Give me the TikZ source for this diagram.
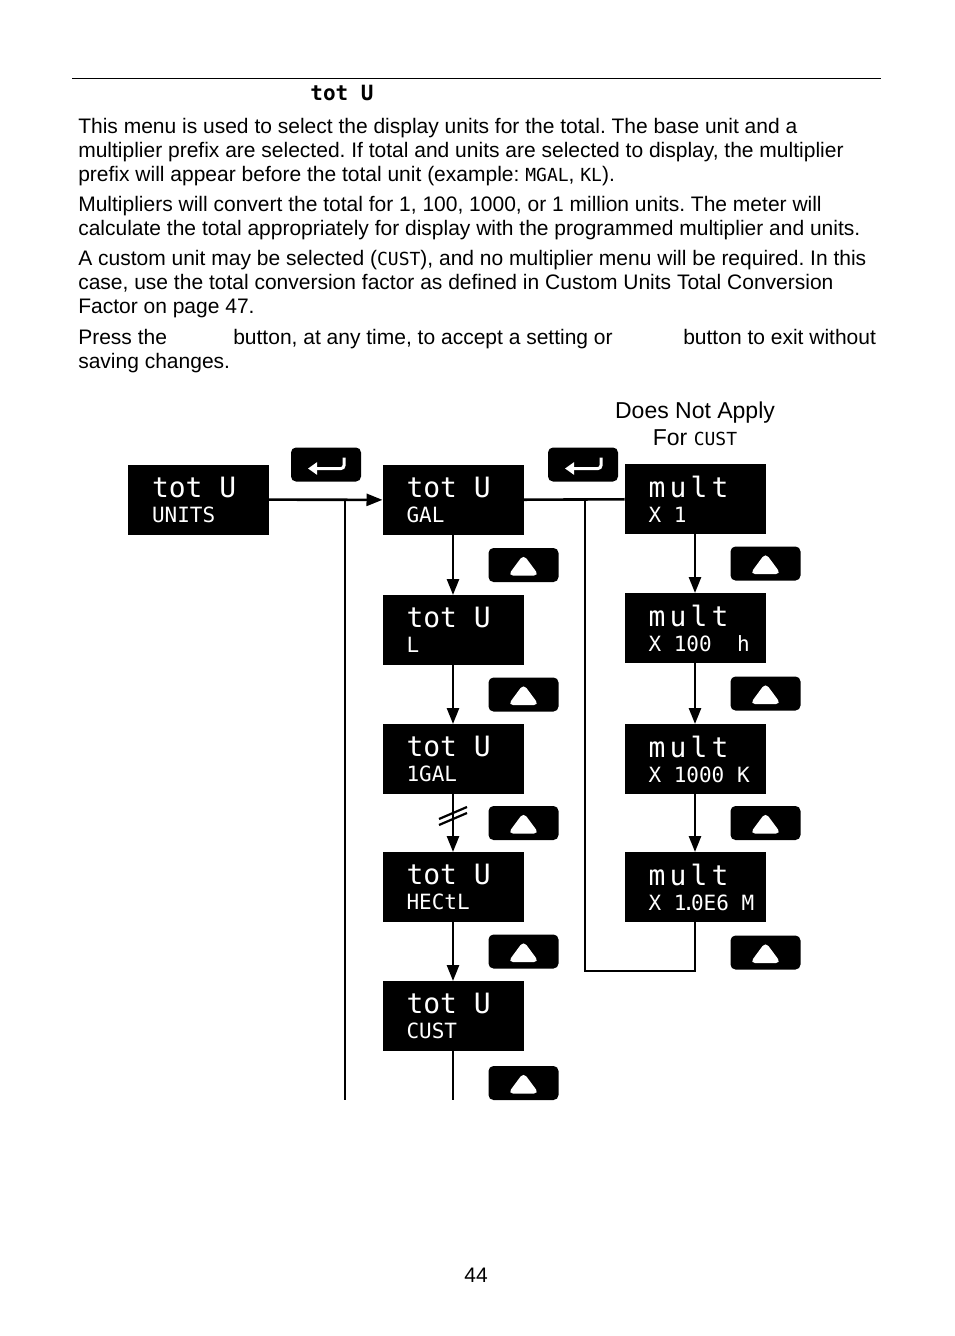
\documentclass[tikz,border=0pt]{standalone}
\usepackage{fontspec}
\setmainfont{Liberation Sans}
\newfontfamily\segfont{DejaVu Sans Mono}
\newfontfamily\segwide{DejaVu Sans Mono}[LetterSpace=15]
\usetikzlibrary{positioning,arrows.meta,calc}

\newcommand\segline[1]{\hbox{\spaceskip=0pt\xspaceskip=0pt #1}}
\newcommand\segbig[1]{\segline{\segfont\fontsize{28}{28}\selectfont #1}}
\newcommand\segmult{\segline{\segwide\fontsize{28}{28}\selectfont mult}}
\newcommand\segsmall{\segfont\fontsize{21}{25}\selectfont}
\newcommand\seginline[1]{{\segfont\fontsize{18}{18}\selectfont #1}}
\frenchspacing

\begin{document}
\begin{tikzpicture}[
  x=1pt, y=-1pt,
  >={Triangle[length=16pt,width=12pt]},
  line width=2.6pt,
  font=\fontsize{21}{24}\selectfont,
  prose/.style={
     anchor=north west,
     inner sep=0pt,
     align=left
  },
  display/.style={
     fill=black,
     text=white,
     font=\segsmall,
     minimum width=141pt,
     minimum height=70pt,
     outer sep=0pt,
     inner xsep=24pt,
     inner ysep=0pt,
     text width=93pt,
     align=left
  },
  key/.style={
     fill=black,
     rounded corners=5pt,
     minimum width=70pt,
     minimum height=34pt,
     outer sep=0pt,
     inner sep=0pt
  },
  enterkey/.style={
     key,
     path picture={
       \draw[white, line width=3pt, rounded corners=3pt, -{Triangle[length=9pt,width=12pt]}]
         ($(path picture bounding box.center)+(18,-7)$) --
         ($(path picture bounding box.center)+(18,4)$) --
         ($(path picture bounding box.center)+(-18,4)$);
     }
  },
  upkey/.style={
     key,
     path picture={
       \fill[white]
         ($(path picture bounding box.center)+(-15.5,10.5)$) --
         ($(path picture bounding box.center)+(15.5,10.5)$) --
         ($(path picture bounding box.center)+(0,-10.5)$) -- cycle;
     }
  }
]
\useasboundingbox (0,0) rectangle (954,1336);

% header and text
\draw[line width=0.8pt] (72,78) -- (881,78);
\node[inner sep=0pt] (title) at (342,93) {\segfont\bfseries\fontsize{21}{21}\selectfont tot U};

\node[prose] (para1) at (77,117) {This menu is used to select the display units for the total. The base unit and a\\
multiplier prefix are selected. If total and units are selected to display, the multiplier\\
prefix will appear before the total unit (example: \seginline{MGAL}, \seginline{KL}).};
\node[prose] (para2) at (77,195) {Multipliers will convert the total for 1, 100, 1000, or 1 million units. The meter will\\
calculate the total appropriately for display with the programmed multiplier and units.};
\node[prose] (para3) at (77,249) {A custom unit may be selected (\seginline{CUST}), and no multiplier menu will be required. In this\\
case, use the total conversion factor as defined in Custom Units Total Conversion\\
Factor on page 47.};
\node[prose] (para4) at (77,328) {Press the\\saving changes.};
\node[prose] (para4b) at (232,328) {button, at any time, to accept a setting or};
\node[prose] (para4c) at (682,328) {button to exit without};

\node[align=center, font=\fontsize{23}{27}\selectfont] (note) at (695,424) {Does Not Apply\\For \seginline{CUST}};

% displays
\node[display] (units) at (198.5,499.5) {\segbig{tot U}\\\segline{UNITS}};
\node[display] (gal) at (453,500) {\segbig{tot U}\\\segline{GAL}};
\node[display, below=60pt of gal] (lit) {\segbig{tot U}\\\segline{L}};
\node[display, below=59pt of lit] (igal) {\segbig{tot U}\\\segline{1GAL}};
\node[display, below=58pt of igal] (hectl) {\segbig{tot U}\\\segline{HECtL}};
\node[display, below=59pt of hectl] (cust) {\segbig{tot U}\\\segline{CUST}};

\node[display] (x1) at (695,499) {\segmult\\\segline{X 1}};
\node[display, below=59pt of x1] (x100) {\segmult\\\segline{X 100\ \ h}};
\node[display, below=61pt of x100] (x1000) {\segmult\\\segline{X 1000 K}};
\node[display, below=58pt of x1000] (x1e6) {\segmult\\\segline{X 1\kern-4pt.\kern-4pt0E6 M}};

% keys
\node[enterkey] (enter1) at (326,464.5) {};
\node[enterkey] (enter2) at (583,464.5) {};

\node[upkey] (up1) at ($(gal.south east)!0.5!(lit.north east)$) {};
\node[upkey] (up2) at ($(lit.south east)!0.5!(igal.north east)$) {};
\node[upkey] (up3) at ($(igal.south east)!0.5!(hectl.north east)$) {};
\node[upkey] (up4) at ($(hectl.south east)!0.5!(cust.north east)$) {};
\node[upkey] (up5) at ($(cust.south east)+(0,32)$) {};

\node[upkey] (up6) at ($(x1.south east)!0.5!(x100.north east)$) {};
\node[upkey] (up7) at ($(x100.south east)!0.5!(x1000.north east)$) {};
\node[upkey] (up8) at ($(x1000.south east)!0.5!(x1e6.north east)$) {};
\node[upkey] (up9) at ($(x1e6.south east)+(0,30.5)$) {};

% connectors
\coordinate (cutoff) at (0,1100);
\coordinate (tap1) at ($(units.east)!0.67!(gal.west)$);
\coordinate (tap2) at ($(gal.east)!0.61!(x1.west)$);
\coordinate (loop) at ($(x1e6.south)+(0,49)$);

\draw[->] (units) -- (gal);
\draw (tap1) -- (tap1 |- cutoff);
\draw (gal) -- (x1);
\draw (x1e6) -- (loop) -| (tap2);

\draw[->] (gal) -- (lit);
\draw[->] (lit) -- (igal);
\draw[->] (igal) -- (hectl);
\draw[->] (hectl) -- (cust);
\draw (cust) -- (cust.south |- cutoff);

\draw[->] (x1) -- (x100);
\draw[->] (x100) -- (x1000);
\draw[->] (x1000) -- (x1e6);

% break mark
\draw[line width=2.2pt] ($(igal.south)+(-14,25)$) -- ++(28,-12)
                        ($(igal.south)+(-14,31)$) -- ++(28,-12);

\node (page) at (476,1275) {44};

\end{tikzpicture}
\end{document}
